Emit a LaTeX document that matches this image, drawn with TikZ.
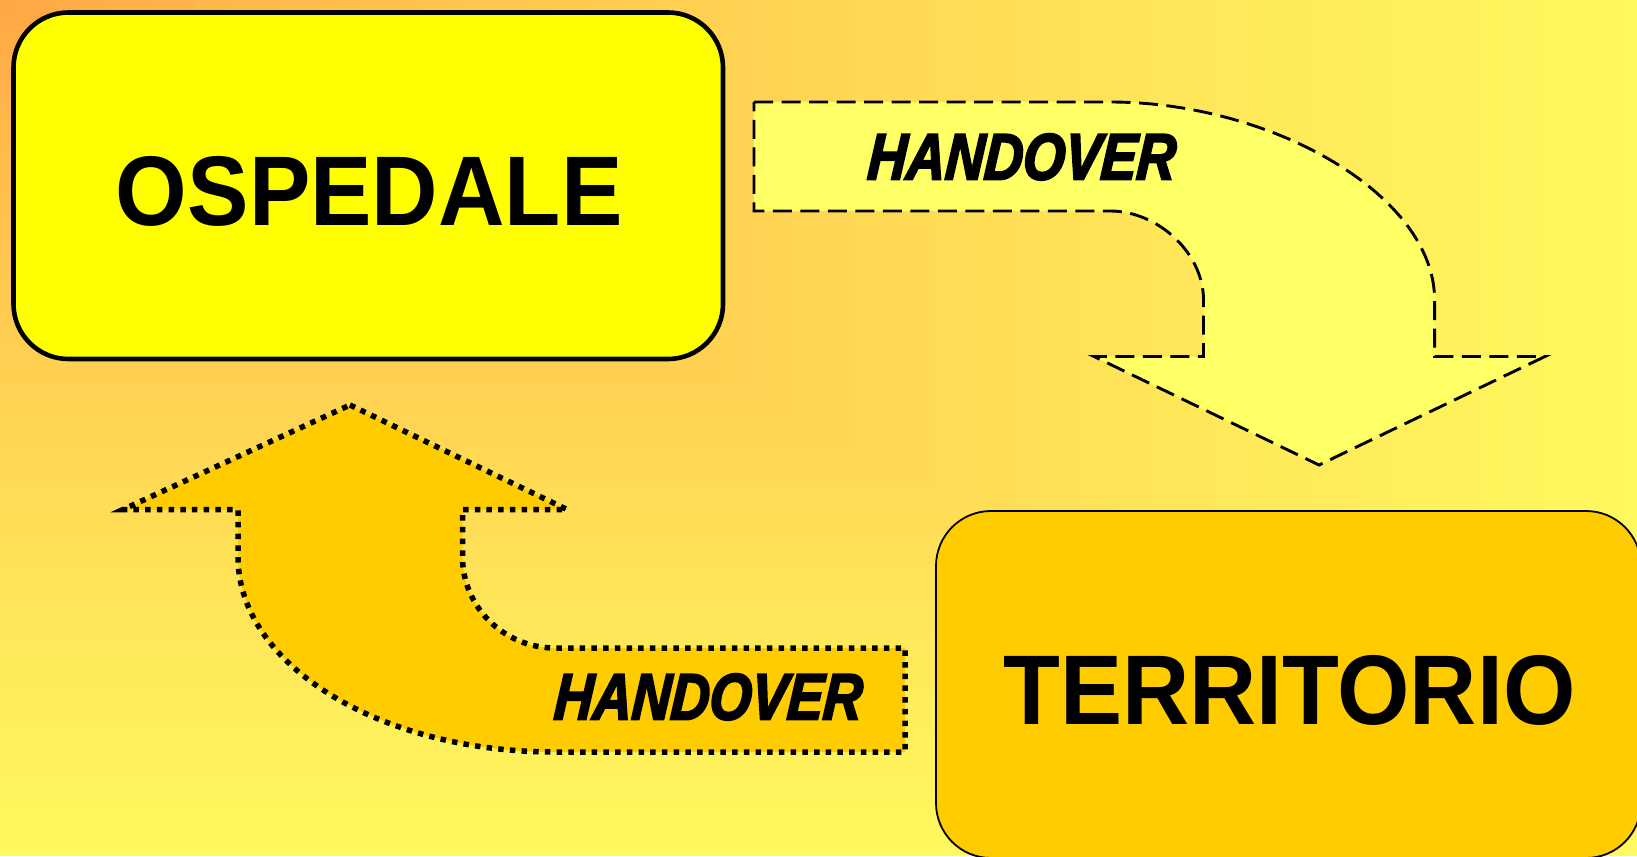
\documentclass[tikz,border=0pt]{standalone}
\usepackage{fontspec}
\newfontfamily\boxfont{Liberation Sans Bold}[FakeStretch=0.93]
\newfontfamily\terfont{Liberation Sans Bold}[FakeStretch=0.94]
\newfontfamily\hofont{Liberation Sans Bold Italic}[FakeStretch=0.82,FakeBold=3,FakeSlant=0.07]
\definecolor{bgS}{RGB}{255,163,68}
\definecolor{bgE}{RGB}{255,248,94}
\definecolor{ospfill}{RGB}{255,255,0}
\definecolor{terfill}{RGB}{255,204,0}
\definecolor{topfill}{RGB}{255,255,102}
\definecolor{botfill}{RGB}{255,204,0}
\begin{document}
\begin{tikzpicture}[x=1pt,y=-1pt,
  bigbox/.style={draw=black, rounded corners=55pt, inner sep=0pt, outer sep=0pt},
  boxlabel/.style={font=\boxfont\fontsize{99}{99}\selectfont, anchor=base, inner sep=0pt},
  terlabelstyle/.style={font=\terfont\fontsize{99}{99}\selectfont, anchor=base, inner sep=0pt},
  holabel/.style={font=\hofont\fontsize{65.6}{66}\selectfont, anchor=base, inner sep=0pt},
  toparrow/.style={draw=black, fill=topfill, line width=2.9pt, dash pattern=on 19pt off 8.5pt, line join=miter},
  botarrow/.style={draw=black, fill=botfill, line width=5.5pt, dash pattern=on 5.5pt off 6.2pt, line join=miter}]
\useasboundingbox (0,0) rectangle (1637,856);
\begin{scope}
\clip (0,0) rectangle (1637,856);
% background: gradient from the top-left corner
\foreach \i in {100,99,...,1}{
  \pgfmathsetmacro\p{100*(\i/100)^0.75}
  \fill[bgE!\p!bgS] (0,0) rectangle ({16.37*\i},{8.56*\i});
}
% upper arrow (dashed)
\draw[toparrow] (754,102) -- (1110,102)
  .. controls (1272,102) and (1434.6,195) .. (1434.6,300)
  -- (1434.6,356.5) -- (1545,356.5) -- (1319,465) -- (1094,356.5)
  -- (1203.5,356.5) -- (1203.5,300)
  .. controls (1203.5,253) and (1158,211) .. (1110,211)
  -- (754,211) -- cycle;
% lower arrow (dotted)
\draw[botarrow] (350,405) -- (567,509.5) -- (462.5,509.5) -- (462.5,557)
  .. controls (462.5,607) and (504,648) .. (555,648)
  -- (905,648) -- (905,752) -- (555,752)
  .. controls (380,752) and (238,665) .. (238,557)
  -- (238,509.5) -- (123,509.5) -- cycle;
% boxes
\node[bigbox, fill=ospfill, line width=4.6pt, minimum width=709.5pt, minimum height=346.5pt] (osp) at (368.25,185.75) {};
\node[bigbox, fill=terfill, line width=1.8pt, minimum width=705pt, minimum height=347pt] (ter) at (1288.5,684.5) {};
% labels
\node[boxlabel] (osplabel) at (369.2,225) {OSPEDALE};
\node[terlabelstyle] (terlabel) at (1289.3,724) {TERRITORIO};
\node[holabel] (hotop) at (1020.5,179.5) {HANDOVER};
\node[holabel] (hobot) at (707,719.5) {HANDOVER};
\end{scope}
\end{tikzpicture}
\end{document}
